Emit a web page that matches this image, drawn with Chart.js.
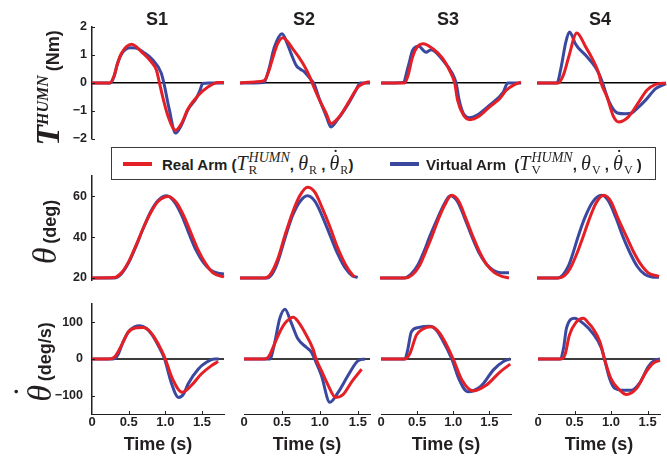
<!DOCTYPE html>
<html>
<head>
<meta charset="utf-8">
<script src="https://cdn.jsdelivr.net/npm/chart.js@4.4.1/dist/chart.umd.min.js"></script>
<style>
  html, body { margin: 0; padding: 0; background: #fff; }
  #fig { position: relative; width: 667px; height: 457px; overflow: hidden; color: #231f20;
         font-family: "Liberation Sans", Arial, sans-serif; }
  #fig canvas { position: absolute; left: 0; top: 0; }
  .hd { position: absolute; top: 19px; transform: translate(-50%, -50%); font-weight: bold; font-size: 18px; line-height: 1; }
  .yt { position: absolute; transform: translate(-50%, -50%) rotate(-90deg); white-space: nowrap;
        font-weight: bold; font-size: 18px; line-height: 1; }
  .bigT { font-family: "Liberation Serif", serif; font-style: italic; font-weight: bold; font-size: 34px; }
  .supH { font-family: "Liberation Serif", serif; font-style: italic; font-weight: bold; font-size: 16px; position: relative; top: -11px; margin-right: 4px; }
  .bigTh { font-family: "Liberation Serif", serif; font-style: italic; font-weight: normal; font-size: 34px; margin-right: 4px; }
  .dotted { position: relative; display: inline-block; line-height: 1; }
  .dotted .dot { position: absolute; left: 0; right: 0; text-align: center; font-style: normal; }
  .bigTh .dot { top: -0.42em; left: 0.12em; }
  .mi .dot { top: -0.32em; left: 0.12em; }
  #legend { position: absolute; left: 111px; top: 147px; width: 543px; height: 31px; border: 1px solid #3a3a3a; background: #fff; }
  .sw { position: absolute; top: 14px; height: 4px; width: 29px; }
  .lt { position: absolute; top: 0; height: 31px; line-height: 31px; font-weight: bold; font-size: 15px; white-space: nowrap; }
  .mi { font-family: "Liberation Serif", serif; font-style: italic; font-weight: normal; font-size: 20px; }
  .ss { display: inline-block; vertical-align: -4px; line-height: 0.95; font-family: "Liberation Serif", serif;
        font-weight: normal; font-size: 13px; margin-left: 1px; }
  .ss span { display: block; }
  .ss .up { font-style: italic; font-size: 14px; }
  .sb { font-family: "Liberation Serif", serif; font-weight: normal; font-size: 12px; position: relative; top: 4px; margin-left: 1px; }
</style>
</head>
<body>
<div id="fig">
  <div class="yt" style="left:48px;top:88px"><span class="bigT">T</span><span class="supH">HUMN</span>(Nm)</div>
  <div class="yt" style="left:45px;top:232px"><span class="bigTh">θ</span>(deg)</div>
  <div class="yt" style="left:40px;top:362px"><span class="bigTh dotted">θ<span class="dot">˙</span></span>(deg/s)</div>
  <div id="legend">
    <span class="sw" style="left:11px;background:#e41f26"></span>
    <div class="lt" style="left:50px">Real Arm (<span class="mi">T</span><span class="ss"><span class="up">HUMN</span><span>R</span></span>, <span class="mi">θ</span><span class="sb">R</span> , <span class="mi dotted">θ<span class="dot">˙</span></span><span class="sb">R</span>)</div>
    <span class="sw" style="left:278px;background:#3a48a0"></span>
    <div class="lt" style="left:314px">Virtual Arm &nbsp;(<span class="mi">T</span><span class="ss"><span class="up">HUMN</span><span>V</span></span>, <span class="mi">θ</span><span class="sb">V</span> , <span class="mi dotted">θ<span class="dot">˙</span></span><span class="sb">V</span> )</div>
  </div>
</div>
<script>
const subjects = ['S1', 'S2', 'S3', 'S4'];
const timeTicks = [0, 0.5, 1, 1.5];
const torqueTicks = [-2, -1, 0, 1, 2];
const angleTicks = [20, 40, 60];
const velocityTicks = [-100, 0, 100];

// every series is a list of [time (s), value]
// joint torque T^HUMN (Nm)
const torqueRealS1 = [[0,0],[0.24,0],[0.3,0.25],[0.35,0.7],[0.4,1.05],[0.54,1.38],[0.7,1.05],[0.81,0.75],[0.88,0.45],[0.92,0],[0.97,-0.56],[1.04,-1.21],[1.14,-1.69],[1.22,-1.45],[1.31,-0.92],[1.45,-0.44],[1.58,-0.14],[1.72,0.02],[1.8,0.02]];
const torqueVirtS1 = [[0,0],[0.25,0],[0.3,0.22],[0.35,0.72],[0.42,1.1],[0.52,1.26],[0.6,1.25],[0.7,1.1],[0.82,0.85],[0.945,0.35],[0.98,0],[1.05,-0.9],[1.14,-1.79],[1.22,-1.5],[1.31,-0.95],[1.42,-0.55],[1.47,-0.28],[1.51,-0.02],[1.6,0],[1.8,0]];
const torqueRealS2 = [[0,0],[0.2,0.04],[0.32,0.08],[0.38,0.4],[0.44,0.93],[0.5,1.4],[0.57,1.62],[0.7,1.23],[0.84,0.69],[0.93,0.21],[0.96,0],[1.06,-0.62],[1.15,-1.1],[1.21,-1.45],[1.32,-1.21],[1.46,-0.62],[1.57,-0.14],[1.66,0],[1.73,0.05]];
const torqueVirtS2 = [[0,0],[0.32,0.02],[0.38,0.45],[0.46,1.3],[0.56,1.76],[0.63,1.4],[0.68,1.05],[0.75,0.62],[0.8,0.5],[0.86,0.39],[0.95,0.1],[0.98,0],[1.06,-0.6],[1.15,-1.2],[1.21,-1.57],[1.3,-1.3],[1.45,-0.7],[1.55,-0.22],[1.6,0],[1.73,0]];
const torqueRealS3 = [[0,0],[0.32,0],[0.37,0.3],[0.42,0.85],[0.47,1.2],[0.57,1.4],[0.7,1.23],[0.84,0.87],[0.93,0.45],[1.0,0],[1.04,-0.62],[1.12,-1.15],[1.21,-1.31],[1.33,-1.19],[1.47,-0.86],[1.61,-0.56],[1.7,-0.26],[1.81,-0.06],[1.9,0.03]];
const torqueVirtS3 = [[0,0],[0.3,0.02],[0.37,0.6],[0.43,1.17],[0.51,1.31],[0.61,1.1],[0.68,1.19],[0.84,0.81],[0.97,0.33],[1.02,0],[1.06,-0.6],[1.12,-1.1],[1.2,-1.24],[1.3,-1.15],[1.47,-0.8],[1.66,-0.32],[1.72,0],[1.9,0]];
const torqueRealS4 = [[0,0],[0.29,0],[0.36,0.3],[0.43,0.93],[0.54,1.79],[0.66,1.29],[0.75,0.87],[0.84,0.33],[0.87,0],[0.95,-0.5],[1.04,-1.21],[1.11,-1.39],[1.24,-1.21],[1.38,-0.68],[1.49,-0.26],[1.61,-0.05],[1.75,0]];
const torqueVirtS4 = [[0,0],[0.27,0],[0.33,0.6],[0.39,1.45],[0.44,1.82],[0.47,1.72],[0.52,1.4],[0.66,0.99],[0.79,0.57],[0.86,0.21],[0.89,0],[0.97,-0.62],[1.09,-1.07],[1.2,-1.1],[1.29,-1.07],[1.33,-0.98],[1.47,-0.62],[1.61,-0.2],[1.7,-0.08],[1.75,-0.02]];

// joint angle theta (deg)
const angleRealS1 = [[0,20],[0.3,20.2],[0.4,22.5],[0.5,28],[0.6,36],[0.7,44.5],[0.8,52],[0.9,57.5],[1.04,60],[1.15,57],[1.25,50.5],[1.35,42],[1.45,33.5],[1.55,27],[1.65,22.5],[1.8,20.5]];
const angleVirtS1 = [[0,20],[0.3,20],[0.4,22],[0.5,27.5],[0.6,35.5],[0.7,44.5],[0.8,52.5],[0.9,58],[1.02,60.3],[1.12,57.5],[1.22,51],[1.32,42],[1.42,33.5],[1.52,27.5],[1.62,23.8],[1.72,22.3],[1.8,22]];
const angleRealS2 = [[0,20],[0.33,20],[0.4,21.5],[0.5,29],[0.6,41],[0.7,52],[0.8,60.5],[0.9,64.5],[1.0,62],[1.1,54],[1.2,45],[1.3,35],[1.4,27],[1.5,21.5],[1.53,20.6]];
const angleVirtS2 = [[0,20],[0.36,20],[0.42,21.5],[0.5,27.5],[0.6,39.5],[0.7,50.5],[0.8,57.5],[0.9,60.3],[1.0,57.5],[1.1,50],[1.2,41],[1.3,32],[1.4,25],[1.5,21],[1.57,20.3]];
const angleRealS3 = [[0,20],[0.35,20],[0.45,21.5],[0.55,26],[0.65,34],[0.72,40],[0.8,47.5],[0.9,55.5],[1.0,60.5],[1.1,57.5],[1.2,49],[1.3,40],[1.4,32],[1.5,26],[1.6,22.5],[1.7,20.8],[1.8,20]];
const angleVirtS3 = [[0,20],[0.33,20],[0.43,21.8],[0.53,26.5],[0.62,33.5],[0.69,40],[0.8,49],[0.9,56.5],[0.98,60.3],[1.08,57.5],[1.18,49.5],[1.28,40.5],[1.38,32.5],[1.48,27],[1.58,23.8],[1.68,22.6],[1.8,22.5]];
const angleRealS4 = [[0,20],[0.3,20],[0.38,21],[0.46,24.5],[0.55,31.5],[0.64,40],[0.72,48],[0.82,56.5],[0.93,60.5],[1.03,57.5],[1.12,50],[1.25,40],[1.35,32.5],[1.45,26.5],[1.55,22.5],[1.7,20.8]];
const angleVirtS4 = [[0,20],[0.28,20],[0.36,21.5],[0.44,26],[0.5,32],[0.57,40],[0.66,49],[0.77,57],[0.9,60.5],[1.0,57.5],[1.1,49.5],[1.2,40],[1.3,32],[1.4,25.5],[1.5,21.8],[1.6,20.5],[1.7,20.3]];

// joint velocity theta-dot (deg/s)
const velocityRealS1 = [[0,0],[0.22,0],[0.3,4],[0.4,36],[0.49,72],[0.6,85],[0.7,86],[0.78,77],[0.85,59],[0.95,23],[1.0,0],[1.1,-55],[1.23,-91],[1.35,-73],[1.49,-41],[1.63,-18],[1.72,-7]];
const velocityVirtS1 = [[0,0],[0.29,0],[0.35,10],[0.42,45],[0.5,75],[0.58,88],[0.65,91],[0.74,84],[0.82,66],[0.9,38],[0.99,0],[1.08,-64],[1.18,-105],[1.25,-95],[1.31,-68],[1.45,-27],[1.56,-9],[1.67,0],[1.73,0]];
const velocityRealS2 = [[0,0],[0.27,0],[0.33,8],[0.4,40],[0.47,73],[0.55,100],[0.65,114],[0.72,100],[0.8,73],[0.91,27],[0.95,0],[1.02,-32],[1.1,-68],[1.21,-105],[1.3,-98],[1.43,-59],[1.55,-28]];
const velocityVirtS2 = [[0,0],[0.34,0],[0.4,40],[0.47,110],[0.54,136],[0.62,100],[0.71,55],[0.82,32],[0.89,18],[0.93,0],[1.02,-45],[1.13,-118],[1.24,-91],[1.37,-45],[1.5,-5],[1.59,0]];
const velocityRealS3 = [[0,0],[0.33,0],[0.4,15],[0.49,65],[0.58,82],[0.7,88],[0.78,78],[0.86,56],[1.0,0],[1.12,-57],[1.28,-87],[1.46,-71],[1.65,-35],[1.79,-14]];
const velocityVirtS3 = [[0,0],[0.33,0],[0.37,25],[0.42,74],[0.52,86],[0.68,89],[0.76,80],[0.84,56],[0.98,0],[1.08,-55],[1.2,-89],[1.38,-75],[1.56,-29],[1.7,-6],[1.79,0]];
const velocityRealS4 = [[0,0],[0.32,0],[0.37,12],[0.43,65],[0.52,100],[0.62,111],[0.7,96],[0.75,84],[0.85,46],[0.91,0],[1.0,-54],[1.12,-85],[1.21,-97],[1.35,-80],[1.48,-35],[1.58,-11],[1.67,-4]];
const velocityVirtS4 = [[0,0],[0.3,0],[0.35,30],[0.39,84],[0.5,111],[0.62,97],[0.75,70],[0.87,29],[0.91,0],[0.98,-53],[1.05,-80],[1.15,-85],[1.28,-85],[1.39,-66],[1.51,-21],[1.6,-3],[1.67,0]];

(function() {
  const W = 667, H = 457;
  const INK = '#231f20';
  const RED = '#e41f26';
  const BLUE = '#3a48a0';
  const FONT = '"Liberation Sans", Arial, sans-serif';

  const rows = [
    { real: [torqueRealS1, torqueRealS2, torqueRealS3, torqueRealS4],
      virt: [torqueVirtS1, torqueVirtS2, torqueVirtS3, torqueVirtS4],
      ticks: torqueTicks, min: -2, max: 2, zero: '#000', zeroWidth: 1.5 },
    { real: [angleRealS1, angleRealS2, angleRealS3, angleRealS4],
      virt: [angleVirtS1, angleVirtS2, angleVirtS3, angleVirtS4],
      ticks: angleTicks, min: 19, max: 70, zero: null, zeroWidth: 0 },
    { real: [velocityRealS1, velocityRealS2, velocityRealS3, velocityRealS4],
      virt: [velocityVirtS1, velocityVirtS2, velocityVirtS3, velocityVirtS4],
      ticks: velocityTicks, min: -150, max: 150, zero: '#3c3c3c', zeroWidth: 2 }
  ];

  // plot area of each panel: top / bottom per row, [left, right, last second] per row & column
  const rowTop = [27, 176, 304];
  const rowBottom = [139, 280, 414];
  const panelBox = [
    [[92, 224, 1.8], [240, 370, 1.73], [381, 521, 1.9], [537, 666, 1.75]],
    [[92, 224, 1.8], [240, 360, 1.6], [380, 509, 1.8], [537, 659, 1.7]],
    [[92, 224, 1.8], [244, 370, 1.66], [381, 511, 1.8], [538, 660, 1.67]]
  ];
  const headerX = [157, 304, 448, 600];

  const fig = document.getElementById('fig');

  subjects.forEach((s, i) => {
    const d = document.createElement('div');
    d.className = 'hd';
    d.style.left = headerX[i] + 'px';
    d.textContent = s;
    fig.appendChild(d);
  });

  const fmtNum = v => v < 0 ? '\u2212' + Math.abs(v) : String(v);

  // small tick marks drawn on the inside of the axes
  const innerTicks = {
    id: 'innerTicks',
    afterDraw(chart, args, opts) {
      const { ctx, chartArea, scales } = chart;
      ctx.save();
      ctx.strokeStyle = INK;
      ctx.lineWidth = 1;
      if (opts.y) {
        scales.y.ticks.forEach(t => {
          const y = Math.round(scales.y.getPixelForValue(t.value)) + 0.5;
          ctx.beginPath();
          ctx.moveTo(chartArea.left, y);
          ctx.lineTo(chartArea.left + 3, y);
          ctx.stroke();
        });
      }
      if (opts.x) {
        scales.x.ticks.forEach(t => {
          if (t.value === 0) return;
          const x = Math.round(scales.x.getPixelForValue(t.value)) + 0.5;
          ctx.beginPath();
          ctx.moveTo(x, chartArea.bottom);
          ctx.lineTo(x, chartArea.bottom - 3);
          ctx.stroke();
        });
      }
      ctx.restore();
    }
  };

  function makePanel(r, c) {
    const row = rows[r];
    const [left, right, tMax] = panelBox[r][c];
    const showY = c === 0;
    const showX = r === 2;

    const canvas = document.createElement('canvas');
    canvas.width = W;
    canvas.height = H;
    fig.insertBefore(canvas, fig.firstChild);

    const line = (data, color) => ({
      data: data,
      borderColor: color,
      borderWidth: 3,
      pointRadius: 0,
      fill: false,
      cubicInterpolationMode: 'monotone',
      clip: false
    });

    return new Chart(canvas, {
      type: 'line',
      data: { datasets: [line(row.real[c], RED), line(row.virt[c], BLUE)] },
      plugins: [innerTicks],
      options: {
        responsive: false,
        animation: false,
        devicePixelRatio: 1,
        events: [],
        layout: {
          autoPadding: false,
          padding: { left: showY ? 0 : left, right: W - right, top: rowTop[r], bottom: showX ? 0 : H - rowBottom[r] }
        },
        plugins: {
          legend: { display: false },
          tooltip: { enabled: false },
          innerTicks: { x: showX, y: showY }
        },
        scales: {
          x: {
            type: 'linear',
            min: 0,
            max: tMax,
            display: showX,
            afterFit: s => { if (showX) s.height = H - rowBottom[r]; },
            afterBuildTicks: s => { s.ticks = timeTicks.map(v => ({ value: v })); },
            grid: { display: false, drawTicks: false },
            border: { display: true, color: INK, width: 1 },
            ticks: {
              padding: 1,
              color: INK,
              font: { family: FONT, size: 13, weight: 'bold' },
              maxRotation: 0,
              callback: v => v === 0 ? '0' : v.toFixed(1)
            },
            title: {
              display: true,
              text: 'Time (s)',
              color: INK,
              font: { family: FONT, size: 18, weight: 'bold' },
              padding: { top: 0, bottom: 1 }
            }
          },
          y: {
            type: 'linear',
            min: row.min,
            max: row.max,
            afterFit: s => { s.width = showY ? left : 0; },
            afterBuildTicks: s => { s.ticks = row.ticks.map(v => ({ value: v })); },
            grid: {
              drawTicks: false,
              color: ctx => (row.zero && ctx.tick && ctx.tick.value === 0) ? row.zero : 'rgba(0,0,0,0)',
              lineWidth: row.zeroWidth || 1
            },
            border: { display: showY, color: INK, width: 1.5 },
            ticks: {
              display: showY,
              padding: r === 2 ? 9 : 5,
              color: INK,
              font: { family: FONT, size: 12.5, weight: 'bold' },
              callback: v => fmtNum(v)
            }
          }
        }
      }
    });
  }

  for (let r = 0; r < rows.length; r++) {
    for (let c = 0; c < subjects.length; c++) makePanel(r, c);
  }
})();
</script>
</body>
</html>
